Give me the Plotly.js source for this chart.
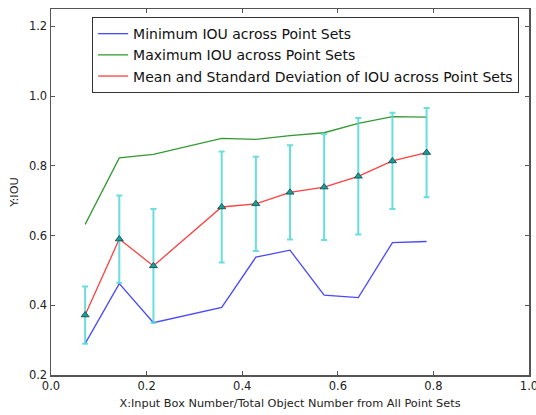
<!DOCTYPE html>
<html>
<head>
<meta charset="utf-8">
<script src="https://cdn.plot.ly/plotly-3.0.1.min.js"></script>
<style>
  html, body { margin: 0; padding: 0; background: #ffffff; }
  #chart { width: 536px; height: 415px; }
</style>
</head>
<body>
<div id="chart"></div>
<script>
// Ratio of input boxes to total objects (k / 14)
const ratio = [1/14, 2/14, 3/14, 5/14, 6/14, 7/14, 8/14, 9/14, 10/14, 11/14];

// IOU statistics across point sets
const minIou  = [0.290, 0.462, 0.350, 0.394, 0.538, 0.558, 0.429, 0.422, 0.580, 0.583];
const maxIou  = [0.632, 0.823, 0.833, 0.879, 0.876, 0.887, 0.895, 0.922, 0.941, 0.940];
const meanIou = [0.372, 0.590, 0.513, 0.682, 0.691, 0.724, 0.739, 0.770, 0.814, 0.838];
const stdIou  = [0.082, 0.125, 0.163, 0.159, 0.135, 0.135, 0.152, 0.167, 0.138, 0.128];

const xTicks = [0.0, 0.2, 0.4, 0.6, 0.8, 1.0];
const yTicks = [0.2, 0.4, 0.6, 0.8, 1.0, 1.2];

const axisColor = '#555555';
const tickFont = { family: 'DejaVu Sans', size: 11.5, color: '#222222' };
const titleFont = { family: 'DejaVu Sans', size: 11.3, color: '#222222' };

const traces = [
  {
    x: ratio, y: minIou, type: 'scatter', mode: 'lines',
    name: 'Minimum IOU across Point Sets',
    line: { color: 'rgba(40,40,255,0.85)', width: 1.3 }
  },
  {
    x: ratio, y: maxIou, type: 'scatter', mode: 'lines',
    name: 'Maximum IOU across Point Sets',
    line: { color: 'rgba(0,128,0,0.8)', width: 1.3 }
  },
  {
    x: ratio, y: meanIou, type: 'scatter', mode: 'lines',
    name: 'Mean and Standard Deviation of IOU across Point Sets',
    line: { color: 'rgba(255,30,30,0.85)', width: 1.3 }
  },
  {
    x: ratio, y: meanIou, type: 'scatter', mode: 'markers',
    showlegend: false, hoverinfo: 'skip',
    error_y: { type: 'data', array: stdIou, visible: true,
               color: 'rgba(80,215,215,0.85)', thickness: 2, width: 3 },
    marker: { symbol: 'triangle-up', size: 7, color: '#1a9e9e',
              line: { color: '#0a4545', width: 0.8 } }
  }
];

const layout = {
  width: 536, height: 415,
  margin: { l: 51, r: 7, t: 9, b: 40 },
  paper_bgcolor: '#ffffff', plot_bgcolor: '#ffffff',
  font: tickFont,
  showlegend: true,
  legend: {
    x: 0.086, y: 0.978, xanchor: 'left', yanchor: 'top',
    bgcolor: '#ffffff', bordercolor: '#333333', borderwidth: 1,
    font: { family: 'DejaVu Sans', size: 14, color: '#111111' },
    tracegroupgap: 0
  },
  xaxis: {
    range: [0, 1], tickvals: xTicks, ticktext: xTicks.map(v => v.toFixed(1)),
    showgrid: false, zeroline: false,
    showline: true, linecolor: axisColor, linewidth: 1.5, mirror: 'ticks',
    ticks: 'inside', ticklen: 4, tickcolor: axisColor,
    tickfont: tickFont, ticklabeloverflow: 'allow',
    title: { text: 'X:Input Box Number/Total Object Number from All Point Sets',
             font: titleFont, standoff: 7 }
  },
  yaxis: {
    range: [0.2, 1.25], tickvals: yTicks, ticktext: yTicks.map(v => v.toFixed(1)),
    showgrid: false, zeroline: false,
    showline: true, linecolor: axisColor, linewidth: 1.5, mirror: 'ticks',
    ticks: 'inside', ticklen: 4, tickcolor: axisColor,
    tickfont: tickFont, ticklabeloverflow: 'allow',
    title: { text: 'Y:IOU', font: titleFont, standoff: 8 }
  }
};

Plotly.newPlot('chart', traces, layout, { displayModeBar: false, staticPlot: true });
</script>
</body>
</html>
